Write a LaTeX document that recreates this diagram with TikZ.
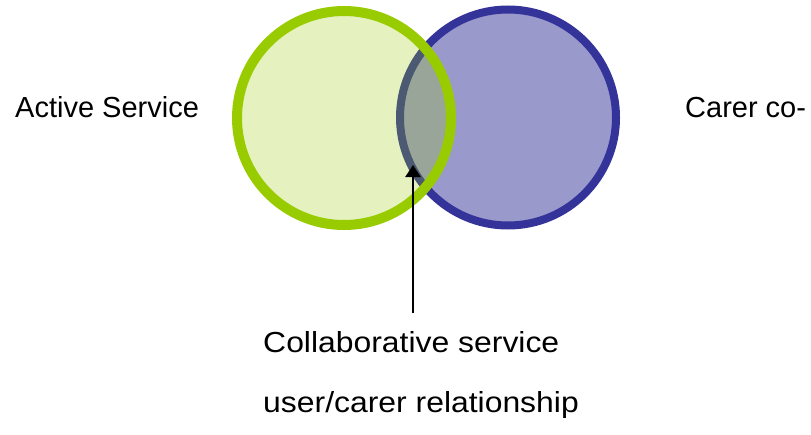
\documentclass[tikz,border=0pt]{standalone}
\usepackage{fontspec}
\setmainfont{Liberation Sans}
\usepackage{xcolor}
\usepackage{tikz}
\usetikzlibrary{arrows.meta}
\definecolor{leaf}{HTML}{99CC00}
\definecolor{navy}{HTML}{333399}
\definecolor{lav}{HTML}{9999CC}
\tikzset{
  carer/.style={draw=navy, line width=8pt, fill=lav},
  active/.style={draw=leaf, line width=10pt, fill=leaf, fill opacity=0.25},
  arr/.style={draw=black, line width=2.5pt, -{Triangle[length=12pt,width=15pt]}},
  lab/.style={text=black, font=\fontsize{29}{34}\selectfont, inner sep=0pt, anchor=base west},
  wide/.style={lab, xscale=1.1},
}
\begin{document}
\begin{tikzpicture}[x=1pt,y=-1pt]
  \useasboundingbox (0,0) rectangle (811,434);
  \coordinate (G) at (344,118);
  \coordinate (B) at (508,117.5);
  \coordinate (tip) at (413,165);
  \coordinate (tail) at (413,313);

  \draw[carer] (B) circle (108);
  \draw[active] (G) circle (107);
  \draw[arr] (tail) -- (tip);

  \node[lab] (act) at (15,117) {Active Service};
  \node[lab] (car) at (685,117) {Carer co-};
  \node[wide] (col) at (263,352) {Collaborative service};
  \node[wide] (rel) at (263,412) {user/carer relationship};
\end{tikzpicture}
\end{document}
